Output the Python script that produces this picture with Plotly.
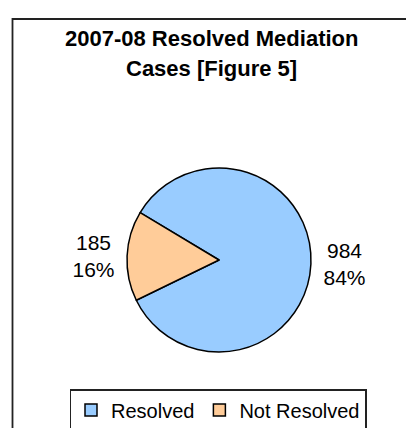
import plotly.graph_objects as go

categories = ["Resolved", "Not Resolved"]
values = [984, 185]
colors = ["#99CCFF", "#FFCC99"]
title_lines = ["2007-08 Resolved Mediation", "Cases [Figure 5]"]

W, H = 414, 428
FONT = "Arial, Liberation Sans, sans-serif"

fig = go.Figure(
    go.Pie(
        labels=categories,
        values=values,
        sort=False,
        direction="clockwise",
        rotation=-59,
        marker=dict(colors=colors, line=dict(color="black", width=1.5)),
        textposition="outside",
        texttemplate="%{value}<br>%{percent:.0%}",
        outsidetextfont=dict(family=FONT, size=21, color="black"),
        domain=dict(x=[119 / W, 303 / W], y=[(H - 344) / H, (H - 160) / H]),
        showlegend=True,
        hoverinfo="skip",
    )
)

fig.add_shape(
    type="rect", xref="paper", yref="paper",
    x0=4.5 / W, x1=1.02, y0=-0.02, y1=1 - 11 / H,
    line=dict(color="#222222", width=1.8), fillcolor="rgba(0,0,0,0)",
    layer="below",
)

for i, (txt, yc) in enumerate(zip(title_lines, [31, 60])):
    fig.add_annotation(
        text=f"<b>{txt}</b>", xref="paper", yref="paper",
        x=203.5 / W, y=1 - yc / H, xanchor="center", yanchor="middle",
        showarrow=False, font=dict(family=FONT, size=22, color="black"),
    )

fig.update_layout(
    width=W, height=H,
    margin=dict(l=0, r=0, t=0, b=0),
    paper_bgcolor="white",
    plot_bgcolor="white",
    font=dict(family=FONT, color="black"),
    legend=dict(
        orientation="h", x=210 / W, xanchor="center",
        y=(H - 423) / H, yanchor="bottom",
        font=dict(family=FONT, size=20, color="black"),
        bordercolor="#222222", borderwidth=1.5, bgcolor="white",
        traceorder="normal", itemwidth=30,
    ),
)

fig.write_html("out.html")
